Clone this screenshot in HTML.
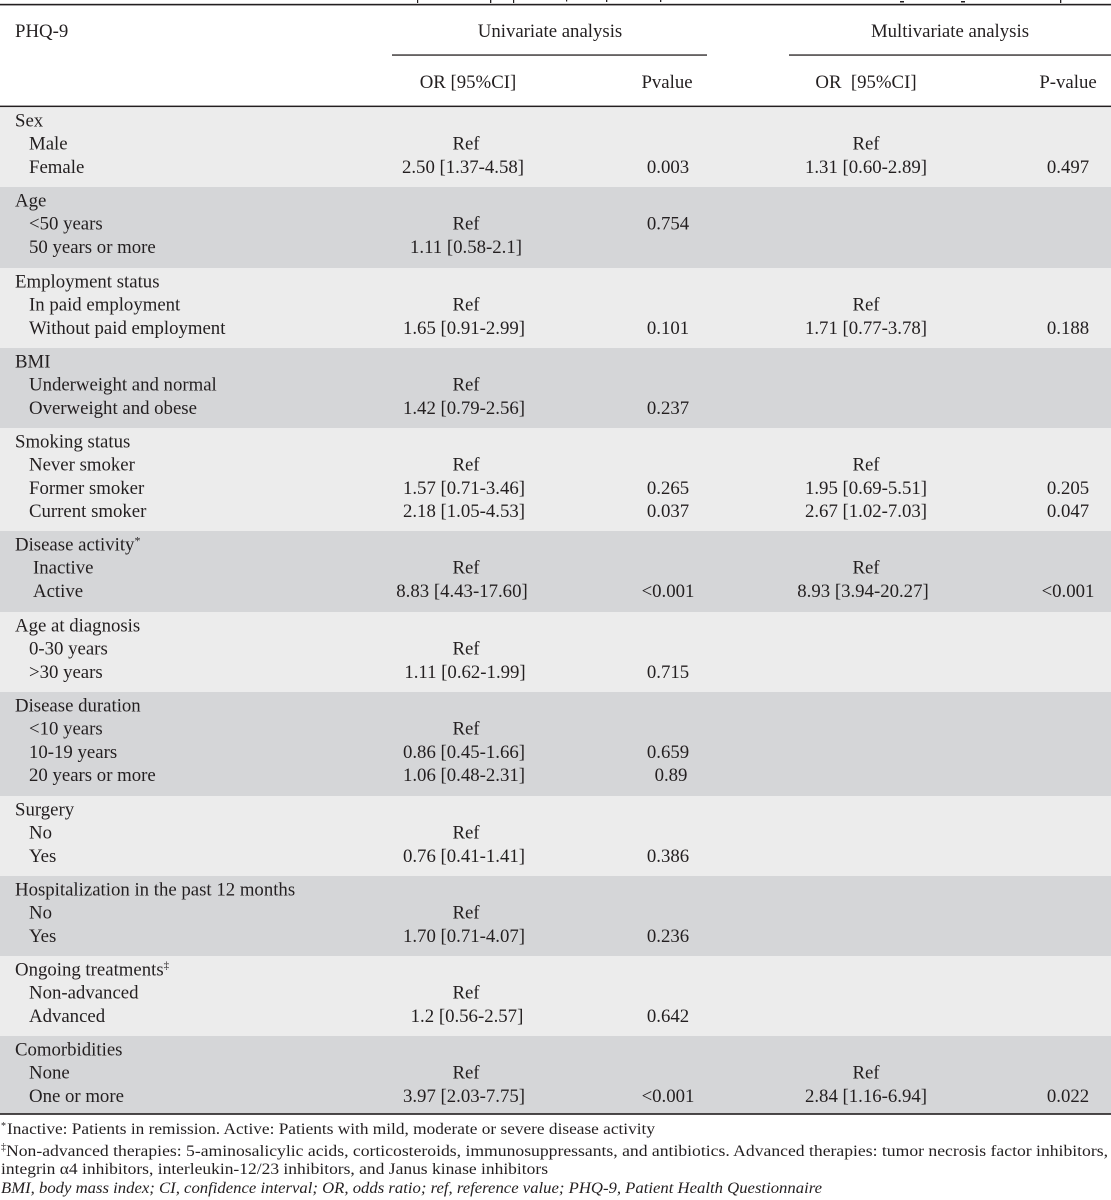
<!DOCTYPE html>
<html>
<head>
<meta charset="utf-8">
<style>
  html,body{margin:0;padding:0;background:#fff;}
  svg{display:block;}
  text{font-family:"Liberation Serif","DejaVu Serif",serif;fill:#231f20;}
  .t{font-size:18.8px;}
  .f{font-size:16px;}
</style>
</head>
<body>
<svg width="1111" height="1200" viewBox="0 0 1111 1200" xmlns="http://www.w3.org/2000/svg">
  <rect x="0" y="0" width="1111" height="1200" fill="#ffffff"/>

  <!-- descender fragments of caption above -->
  <g fill="#231f20">
    <rect x="417" y="0" width="1.2" height="3"/>
    <rect x="490" y="0" width="1.3" height="3"/>
    <rect x="513" y="0" width="1.2" height="3"/>
    <rect x="566" y="0" width="1.2" height="1.5"/>
    <rect x="606" y="0" width="1.3" height="2"/>
    <rect x="660" y="0" width="1.3" height="2"/>
    <rect x="900" y="1" width="4" height="1.5"/>
    <rect x="961" y="1" width="4" height="1.5"/>
    <rect x="1060" y="0" width="1.3" height="3"/>
  </g>

  <!-- rules -->
  <rect x="0" y="3.8" width="1111" height="1.6" fill="#231f20"/>
  <rect x="392" y="54.4" width="315" height="1.3" fill="#231f20"/>
  <rect x="789" y="54.4" width="322" height="1.3" fill="#231f20"/>
  <rect x="0" y="105.6" width="1111" height="1.6" fill="#231f20"/>

  <!-- bands -->
  <rect x="0" y="107.2" width="1111" height="79.8" fill="#ececec"/>
  <rect x="0" y="187" width="1111" height="81" fill="#d5d6d8"/>
  <rect x="0" y="268" width="1111" height="80" fill="#ececec"/>
  <rect x="0" y="348" width="1111" height="80" fill="#d5d6d8"/>
  <rect x="0" y="428" width="1111" height="103" fill="#ececec"/>
  <rect x="0" y="531" width="1111" height="81" fill="#d5d6d8"/>
  <rect x="0" y="612" width="1111" height="80" fill="#ececec"/>
  <rect x="0" y="692" width="1111" height="104" fill="#d5d6d8"/>
  <rect x="0" y="796" width="1111" height="80" fill="#ececec"/>
  <rect x="0" y="876" width="1111" height="80" fill="#d5d6d8"/>
  <rect x="0" y="956" width="1111" height="80" fill="#ececec"/>
  <rect x="0" y="1036" width="1111" height="77.5" fill="#d5d6d8"/>
  <rect x="0" y="1113.2" width="1111" height="1.6" fill="#231f20"/>

  <!-- header -->
  <text class="t" x="15" y="37">PHQ-9</text>
  <text class="t" x="550" y="37" text-anchor="middle">Univariate analysis</text>
  <text class="t" x="950" y="37" text-anchor="middle">Multivariate analysis</text>
  <text class="t" x="468" y="88" text-anchor="middle">OR [95%CI]</text>
  <text class="t" x="667" y="88" text-anchor="middle">Pvalue</text>
  <text class="t" x="866" y="88" text-anchor="middle" xml:space="preserve">OR  [95%CI]</text>
  <text class="t" x="1068" y="88" text-anchor="middle">P-value</text>

  <!-- Sex -->
  <text class="t" x="15" y="126.5">Sex</text>
  <text class="t" x="29" y="149.7">Male</text>
  <text class="t" x="29" y="172.9">Female</text>
  <text class="t" x="466" y="149.7" text-anchor="middle">Ref</text>
  <text class="t" x="463" y="172.9" text-anchor="middle">2.50 [1.37-4.58]</text>
  <text class="t" x="668" y="172.9" text-anchor="middle">0.003</text>
  <text class="t" x="866" y="149.7" text-anchor="middle">Ref</text>
  <text class="t" x="866" y="172.9" text-anchor="middle">1.31 [0.60-2.89]</text>
  <text class="t" x="1068" y="172.9" text-anchor="middle">0.497</text>

  <!-- Age -->
  <text class="t" x="15" y="206.5">Age</text>
  <text class="t" x="29" y="229.7">&lt;50 years</text>
  <text class="t" x="29" y="252.9">50 years or more</text>
  <text class="t" x="466" y="229.7" text-anchor="middle">Ref</text>
  <text class="t" x="668" y="229.7" text-anchor="middle">0.754</text>
  <text class="t" x="466" y="252.9" text-anchor="middle">1.11 [0.58-2.1]</text>

  <!-- Employment -->
  <text class="t" x="15" y="287.5">Employment status</text>
  <text class="t" x="29" y="310.7">In paid employment</text>
  <text class="t" x="29" y="333.9">Without paid employment</text>
  <text class="t" x="466" y="310.7" text-anchor="middle">Ref</text>
  <text class="t" x="464" y="333.9" text-anchor="middle">1.65 [0.91-2.99]</text>
  <text class="t" x="668" y="333.9" text-anchor="middle">0.101</text>
  <text class="t" x="866" y="310.7" text-anchor="middle">Ref</text>
  <text class="t" x="866" y="333.9" text-anchor="middle">1.71 [0.77-3.78]</text>
  <text class="t" x="1068" y="333.9" text-anchor="middle">0.188</text>

  <!-- BMI -->
  <text class="t" x="15" y="367.5">BMI</text>
  <text class="t" x="29" y="390.7">Underweight and normal</text>
  <text class="t" x="29" y="413.9">Overweight and obese</text>
  <text class="t" x="466" y="390.7" text-anchor="middle">Ref</text>
  <text class="t" x="464" y="413.9" text-anchor="middle">1.42 [0.79-2.56]</text>
  <text class="t" x="668" y="413.9" text-anchor="middle">0.237</text>

  <!-- Smoking -->
  <text class="t" x="15" y="447.5">Smoking status</text>
  <text class="t" x="29" y="470.7">Never smoker</text>
  <text class="t" x="29" y="493.9">Former smoker</text>
  <text class="t" x="29" y="517.1">Current smoker</text>
  <text class="t" x="466" y="470.7" text-anchor="middle">Ref</text>
  <text class="t" x="464" y="493.9" text-anchor="middle">1.57 [0.71-3.46]</text>
  <text class="t" x="668" y="493.9" text-anchor="middle">0.265</text>
  <text class="t" x="464" y="517.1" text-anchor="middle">2.18 [1.05-4.53]</text>
  <text class="t" x="668" y="517.1" text-anchor="middle">0.037</text>
  <text class="t" x="866" y="470.7" text-anchor="middle">Ref</text>
  <text class="t" x="866" y="493.9" text-anchor="middle">1.95 [0.69-5.51]</text>
  <text class="t" x="1068" y="493.9" text-anchor="middle">0.205</text>
  <text class="t" x="866" y="517.1" text-anchor="middle">2.67 [1.02-7.03]</text>
  <text class="t" x="1068" y="517.1" text-anchor="middle">0.047</text>

  <!-- Disease activity -->
  <text class="t" x="15" y="550.5">Disease activity<tspan font-size="12" dy="-6">*</tspan></text>
  <text class="t" x="33" y="573.7">Inactive</text>
  <text class="t" x="33" y="596.9">Active</text>
  <text class="t" x="466" y="573.7" text-anchor="middle">Ref</text>
  <text class="t" x="462" y="596.9" text-anchor="middle">8.83 [4.43-17.60]</text>
  <text class="t" x="668" y="596.9" text-anchor="middle">&lt;0.001</text>
  <text class="t" x="866" y="573.7" text-anchor="middle">Ref</text>
  <text class="t" x="863" y="596.9" text-anchor="middle">8.93 [3.94-20.27]</text>
  <text class="t" x="1068" y="596.9" text-anchor="middle">&lt;0.001</text>

  <!-- Age at diagnosis -->
  <text class="t" x="15" y="631.5">Age at diagnosis</text>
  <text class="t" x="29" y="654.7">0-30 years</text>
  <text class="t" x="29" y="677.9">&gt;30 years</text>
  <text class="t" x="466" y="654.7" text-anchor="middle">Ref</text>
  <text class="t" x="465" y="677.9" text-anchor="middle">1.11 [0.62-1.99]</text>
  <text class="t" x="668" y="677.9" text-anchor="middle">0.715</text>

  <!-- Disease duration -->
  <text class="t" x="15" y="711.5">Disease duration</text>
  <text class="t" x="29" y="734.7">&lt;10 years</text>
  <text class="t" x="29" y="757.9">10-19 years</text>
  <text class="t" x="29" y="781.1">20 years or more</text>
  <text class="t" x="466" y="734.7" text-anchor="middle">Ref</text>
  <text class="t" x="464" y="757.9" text-anchor="middle">0.86 [0.45-1.66]</text>
  <text class="t" x="668" y="757.9" text-anchor="middle">0.659</text>
  <text class="t" x="464" y="781.1" text-anchor="middle">1.06 [0.48-2.31]</text>
  <text class="t" x="671" y="781.1" text-anchor="middle">0.89</text>

  <!-- Surgery -->
  <text class="t" x="15" y="815.5">Surgery</text>
  <text class="t" x="29" y="838.7">No</text>
  <text class="t" x="29" y="861.9">Yes</text>
  <text class="t" x="466" y="838.7" text-anchor="middle">Ref</text>
  <text class="t" x="464" y="861.9" text-anchor="middle">0.76 [0.41-1.41]</text>
  <text class="t" x="668" y="861.9" text-anchor="middle">0.386</text>

  <!-- Hospitalization -->
  <text class="t" x="15" y="895.5">Hospitalization in the past 12 months</text>
  <text class="t" x="29" y="918.7">No</text>
  <text class="t" x="29" y="941.9">Yes</text>
  <text class="t" x="466" y="918.7" text-anchor="middle">Ref</text>
  <text class="t" x="464" y="941.9" text-anchor="middle">1.70 [0.71-4.07]</text>
  <text class="t" x="668" y="941.9" text-anchor="middle">0.236</text>

  <!-- Ongoing treatments -->
  <text class="t" x="15" y="975.5">Ongoing treatments<tspan font-size="11" dy="-7">‡</tspan></text>
  <text class="t" x="29" y="998.7">Non-advanced</text>
  <text class="t" x="29" y="1021.9">Advanced</text>
  <text class="t" x="466" y="998.7" text-anchor="middle">Ref</text>
  <text class="t" x="467" y="1021.9" text-anchor="middle">1.2 [0.56-2.57]</text>
  <text class="t" x="668" y="1021.9" text-anchor="middle">0.642</text>

  <!-- Comorbidities -->
  <text class="t" x="15" y="1055.5">Comorbidities</text>
  <text class="t" x="29" y="1078.7">None</text>
  <text class="t" x="29" y="1101.9">One or more</text>
  <text class="t" x="466" y="1078.7" text-anchor="middle">Ref</text>
  <text class="t" x="464" y="1101.9" text-anchor="middle">3.97 [2.03-7.75]</text>
  <text class="t" x="668" y="1101.9" text-anchor="middle">&lt;0.001</text>
  <text class="t" x="866" y="1078.7" text-anchor="middle">Ref</text>
  <text class="t" x="866" y="1101.9" text-anchor="middle">2.84 [1.16-6.94]</text>
  <text class="t" x="1068" y="1101.9" text-anchor="middle">0.022</text>

  <!-- footnotes -->
  <text x="1" y="1129" font-size="10">*</text>
  <text class="f" x="7" y="1134" textLength="648" lengthAdjust="spacingAndGlyphs">Inactive: Patients in remission. Active: Patients with mild, moderate or severe disease activity</text>
  <text x="1" y="1150" font-size="10">‡</text>
  <text class="f" x="6" y="1156" textLength="1102" lengthAdjust="spacingAndGlyphs">Non-advanced therapies: 5-aminosalicylic acids, corticosteroids, immunosuppressants, and antibiotics.  Advanced therapies: tumor necrosis factor inhibitors,</text>
  <text class="f" x="1" y="1174" textLength="547" lengthAdjust="spacingAndGlyphs">integrin α4 inhibitors, interleukin-12/23 inhibitors, and Janus kinase inhibitors</text>
  <text class="f" x="1" y="1193" font-style="italic" textLength="821" lengthAdjust="spacingAndGlyphs">BMI, body mass index; CI, confidence interval; OR, odds ratio; ref, reference value; PHQ-9, Patient Health Questionnaire</text>
</svg>
</body>
</html>
